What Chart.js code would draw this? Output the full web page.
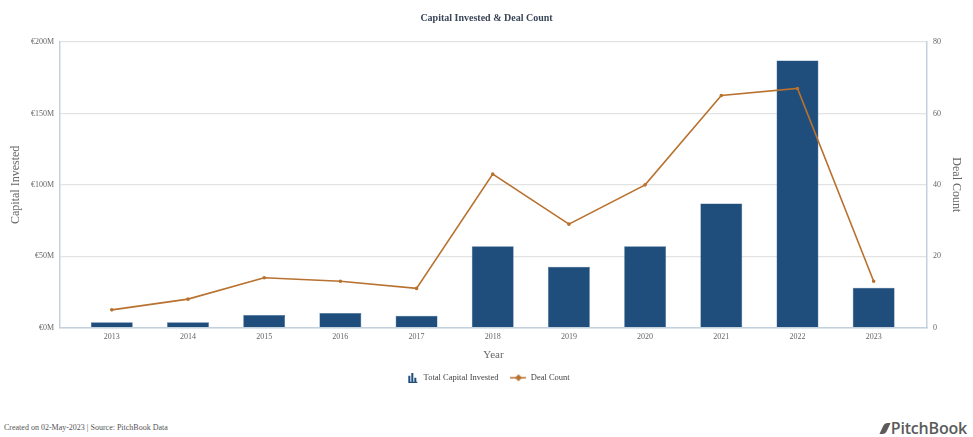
<!DOCTYPE html>
<html lang="en">
<head>
  <meta charset="UTF-8">
  <title>Capital Invested &amp; Deal Count</title>
  <script src="https://cdn.jsdelivr.net/npm/chart.js"></script>
  <style>
    body {
      margin: 0;
      background: #fff;
      width: 973px;
      height: 437px;
      position: relative;
      overflow: hidden;
    }
    #wrap {
      position: absolute;
      left: 0;
      top: 0;
      width: 973px;
      height: 392px;
    }
    #footer {
      position: absolute;
      left: 4px;
      top: 423px;
      font: 8px "Liberation Serif", serif;
      color: #555;
    }
    #brand {
      position: absolute;
      right: 6px;
      top: 417px;
      font: 600 16px "Open Sans", sans-serif;
      color: #5b5b5b;
      letter-spacing: -0.2px;
    }
    #brand .leaf {
      display: inline-block;
      width: 6px;
      height: 11px;
      margin-right: 3px;
      background: #5b5b5b;
      transform: skewX(-25deg);
      border-radius: 3px 0 3px 0;
    }
  </style>
</head>
<body>

<div id="wrap"><canvas id="chart"></canvas></div>
<div id="footer">Created on 02-May-2023 | Source: PitchBook Data</div>
<div id="brand"><span class="leaf"></span>PitchBook</div>

<script>
  const years = [2013, 2014, 2015, 2016, 2017, 2018, 2019, 2020, 2021, 2022, 2023];
  // total capital invested, € millions
  const capitalInvested = [3.8, 3.8, 8.9, 10.3, 8.4, 57, 42.6, 57, 87, 187, 28];
  const dealCount = [5, 8, 14, 13, 11, 43, 29, 40, 65, 67, 13];
  const capitalTicks = [0, 50, 100, 150, 200];
  const countTicks = [0, 20, 40, 60, 80];

  const barColor = '#1f4e7d';
  const lineColor = '#b8712f';
  const serif = '"Liberation Serif", "Times New Roman", serif';

  // legend glyphs, both 16px wide so the text lines up after them
  function barIcon() {
    const c = document.createElement('canvas');
    c.width = 16; c.height = 10;
    const g = c.getContext('2d');
    g.fillStyle = barColor;
    g.fillRect(5, 3, 2, 7);
    g.fillRect(8, 0, 2, 10);
    g.fillRect(11, 5, 2, 5);
    g.fillRect(5, 9, 9, 1);
    return c;
  }
  function lineIcon() {
    const c = document.createElement('canvas');
    c.width = 16; c.height = 8;
    const g = c.getContext('2d');
    g.strokeStyle = lineColor;
    g.lineWidth = 1.5;
    g.beginPath(); g.moveTo(0, 4); g.lineTo(16, 4); g.stroke();
    g.fillStyle = lineColor;
    g.beginPath(); g.moveTo(8, 0.5); g.lineTo(11.5, 4); g.lineTo(8, 7.5); g.lineTo(4.5, 4); g.closePath(); g.fill();
    return c;
  }
  const icons = [barIcon(), lineIcon()];

  const ctx = document.getElementById('chart').getContext('2d');
  new Chart(ctx, {
    data: {
      datasets: [{
        type: 'bar',
        label: 'Total Capital Invested',
        data: years.map((y, i) => ({ x: y, y: capitalInvested[i] })),
        backgroundColor: barColor,
        borderColor: '#3b6895',
        borderWidth: 0.5,
        barPercentage: 0.55,
        categoryPercentage: 1,
        yAxisID: 'y',
        order: 1
      }, {
        type: 'line',
        label: 'Deal Count',
        data: years.map((y, i) => ({ x: y, y: dealCount[i] })),
        borderColor: lineColor,
        backgroundColor: lineColor,
        borderWidth: 1.6,
        pointRadius: 1,
        tension: 0,
        yAxisID: 'y1',
        order: 0
      }]
    },
    options: {
      responsive: true,
      maintainAspectRatio: false,
      animation: false,
      layout: { padding: 0 },
      plugins: {
        title: {
          display: true,
          text: 'Capital Invested & Deal Count',
          color: '#3a4658',
          font: { family: serif, size: 10, weight: 'bold' },
          padding: { top: 12, bottom: 18 }
        },
        legend: {
          position: 'bottom',
          labels: {
            usePointStyle: true,
            pointStyleWidth: 16,
            color: '#444',
            font: { family: serif, size: 8.5 },
            boxHeight: 8,
            padding: 12,
            generateLabels: (chart) => chart.data.datasets.map((ds, i) => ({
              text: ds.label,
              pointStyle: icons[i],
              fillStyle: ds.backgroundColor,
              strokeStyle: ds.borderColor,
              lineWidth: 0,
              fontColor: '#444',
              datasetIndex: i,
              hidden: false
            }))
          }
        },
        tooltip: { enabled: false }
      },
      scales: {
        x: {
          type: 'linear',
          offset: false,
          min: 2012.32,
          max: 2023.7,
          grid: { display: false, drawTicks: false },
          border: { display: true, color: '#c3d1df', width: 1.5 },
          ticks: {
            stepSize: 1,
            includeBounds: false,
            padding: 4,
            color: '#666',
            font: { family: serif, size: 8 },
            callback: (v) => String(v)
          },
          title: {
            display: true,
            text: 'Year',
            color: '#666',
            font: { family: serif, size: 11 },
            padding: { top: 3, bottom: 0 }
          }
        },
        y: {
          position: 'left',
          min: 0,
          max: 200,
          afterBuildTicks: (s) => { s.ticks = capitalTicks.map(v => ({ value: v })); },
          afterFit: (s) => { s.width = 60; },
          grid: { color: '#e3e3e3', lineWidth: 1.2, drawTicks: false },
          border: { display: true, color: '#c3d1df', width: 1.5 },
          ticks: {
            padding: 6,
            color: '#666',
            font: { family: serif, size: 8 },
            callback: (v) => '€' + v + 'M'
          },
          title: {
            display: true,
            text: 'Capital Invested',
            color: '#666',
            font: { family: serif, size: 12 },
            padding: { top: 9, bottom: 2 }
          }
        },
        y1: {
          position: 'right',
          min: 0,
          max: 80,
          afterBuildTicks: (s) => { s.ticks = countTicks.map(v => ({ value: v })); },
          afterFit: (s) => { s.width = 46; },
          grid: { display: false, drawTicks: false },
          border: { display: true, color: '#c3d1df', width: 1.5 },
          ticks: {
            padding: 6,
            color: '#666',
            font: { family: serif, size: 8 }
          },
          title: {
            display: true,
            text: 'Deal Count',
            color: '#666',
            font: { family: serif, size: 12 },
            padding: { top: 10, bottom: 0 }
          }
        }
      }
    }
  });
</script>

</body>
</html>
